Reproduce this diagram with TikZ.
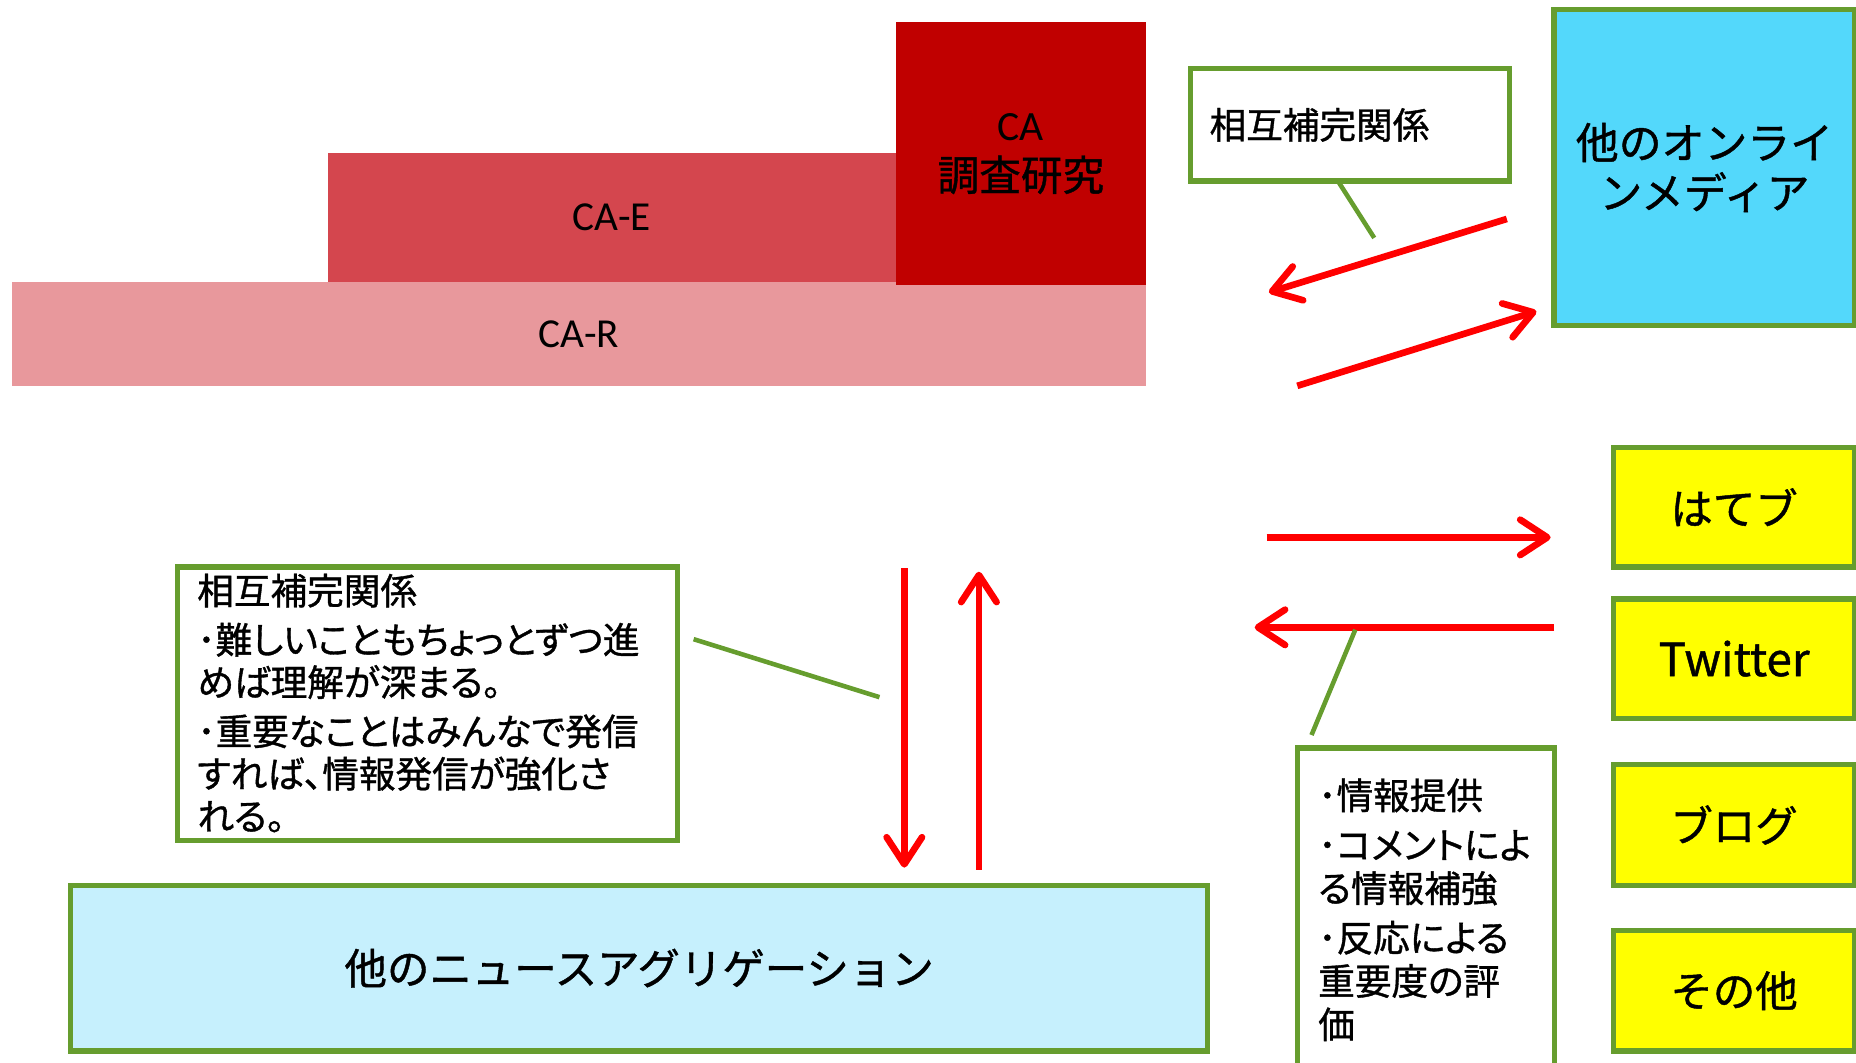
\documentclass[tikz,border=0pt]{standalone}
\usepackage{fontspec}
\setmainfont{Noto Sans CJK JP}[FakeBold=1]
\newfontfamily\paltfont{Noto Sans CJK JP}[FakeBold=1,RawFeature=+palt]
\newfontfamily\calfont{Carlito}
\usetikzlibrary{arrows.meta}
\definecolor{gborder}{RGB}{102,157,46}
\definecolor{redarrow}{RGB}{255,0,0}
\definecolor{cabox}{RGB}{192,0,0}
\definecolor{caE}{RGB}{212,70,78}
\definecolor{caR}{RGB}{232,152,156}
\definecolor{cyanbox}{RGB}{83,216,251}
\definecolor{lightcyan}{RGB}{198,240,253}
\definecolor{yel}{RGB}{255,255,0}
\tikzset{
  box/.style={draw=gborder, line width=1.3pt, inner sep=0pt},
  plain/.style={inner sep=0pt},
  redarr/.style={draw=redarrow, line width=1.6pt,
    -{Straight Barb[length=6.5pt,width=8.5pt,line cap=round,line join=round]}},
  callout/.style={draw=gborder, line width=1.1pt},
  ytext/.style={font=\fontsize{10.2}{12}\selectfont},
  boxtext/.style={anchor=north west, align=left, inner sep=0pt},
}
\begin{document}
\begin{tikzpicture}[x=0.01cm,y=-0.01cm]
\useasboundingbox (0,0) rectangle (1568,898);
% CA stack
\node[plain, fill=caR, minimum width=9.58cm, minimum height=0.88cm,
  font=\calfont\fontsize{9.9}{12}\selectfont] (car) at (489,282) {CA-R};
\node[plain, fill=caE, minimum width=4.80cm, minimum height=1.09cm,
  font=\calfont\fontsize{9.9}{12}\selectfont] (cae) at (517,183.5) {CA-E};
\node[plain, fill=cabox, minimum width=2.11cm, minimum height=2.22cm, align=center,
  font=\fontsize{10}{12}\selectfont] (ca) at (862.5,130) {{\calfont CA}\\調査研究};
% top right
\node[box, fill=white, minimum width=2.69cm, minimum height=0.95cm, text width=2.37cm,
  inner xsep=0.16cm, align=left, font=\paltfont\fontsize{8.8}{11}\selectfont] (rel1) at (1140.5,105.5) {相互補完関係};
\node[box, fill=cyanbox, minimum width=2.54cm, minimum height=2.67cm, align=center,
  font=\fontsize{10.3}{12}\selectfont] (online) at (1440,141.5) {他のオンライ\\ンメディア};
% yellow boxes
\node[box, fill=yel, minimum width=2.04cm, minimum height=1.01cm, ytext] (hatebu) at (1465,428.5) {はてブ};
\node[box, fill=yel, minimum width=2.04cm, minimum height=1.01cm, font=\fontsize{11}{12}\selectfont] (twitter) at (1465,556.5) {Twitter};
\node[box, fill=yel, minimum width=2.04cm, minimum height=1.02cm, ytext] (blog) at (1465,697) {ブログ};
\node[box, fill=yel, minimum width=2.04cm, minimum height=1.02cm, ytext] (other) at (1465,837) {その他};
% news aggregation
\node[box, fill=lightcyan, minimum width=9.60cm, minimum height=1.40cm,
  font=\fontsize{10.2}{12}\selectfont] (news) at (540,818) {他のニュースアグリゲーション};
% left text box
\node[box, fill=white, minimum width=4.22cm, minimum height=2.31cm] (lbox) at (361,594.5) {};
\node[boxtext, font=\paltfont\fontsize{8.8}{10.2}\selectfont] (ltext) at (166,484)
  {相互補完関係\\[1.6pt]･難しいこともちょっとずつ進\\めば理解が深まる。\\[1.6pt]･重要なことはみんなで発信\\すれば、情報発信が強化さ\\れる。};
% right text box
\node[box, fill=white, minimum width=2.17cm, minimum height=2.9cm] (rbox) at (1204.5,777) {};
\node[boxtext, font=\paltfont\fontsize{8.8}{10.4}\selectfont] (rtext) at (1113,657)
  {･情報提供\\[1.5pt]･コメントによ\\る情報補強\\[1.5pt]･反応による\\重要度の評\\価};
% arrow coordinates
\coordinate (a1s) at (1273,185); \coordinate (a1e) at (1072,247);
\coordinate (a2s) at (1096,326); \coordinate (a2e) at (1298,263);
\coordinate (a3s) at (1070,454); \coordinate (a3e) at (1310,454);
\coordinate (a4s) at (1313,530); \coordinate (a4e) at (1060,530);
\coordinate (a5s) at (764,480);  \coordinate (a5e) at (764,733);
\coordinate (a6s) at (827,735);  \coordinate (a6e) at (827,483);
\draw[redarr] (a1s) -- (a1e);
\draw[redarr] (a2s) -- (a2e);
\draw[redarr] (a3s) -- (a3e);
\draw[redarr] (a4s) -- (a4e);
\draw[redarr] (a5s) -- (a5e);
\draw[redarr] (a6s) -- (a6e);
% callout lines
\coordinate (g1s) at (1131,154); \coordinate (g1e) at (1161,201);
\coordinate (g2s) at (586,540);  \coordinate (g2e) at (743,589);
\coordinate (g3s) at (1145,532); \coordinate (g3e) at (1108,621);
\draw[callout] (g1s) -- (g1e);
\draw[callout] (g2s) -- (g2e);
\draw[callout] (g3s) -- (g3e);
\end{tikzpicture}
\end{document}
